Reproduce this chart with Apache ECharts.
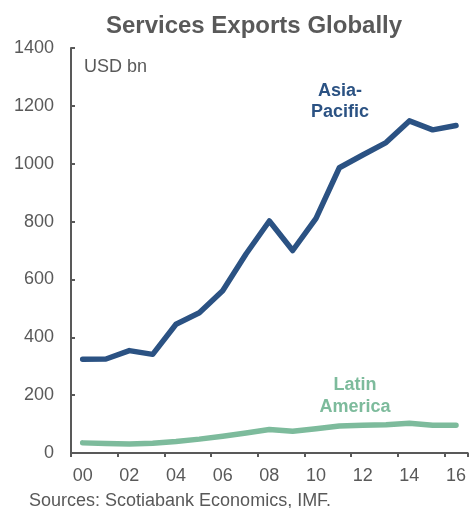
<!DOCTYPE html>
<html>
<head>
<meta charset="utf-8">
<script src="https://cdn.jsdelivr.net/npm/echarts@6/dist/echarts.min.js"></script>
<style>
  html, body { margin: 0; padding: 0; background: #fff; }
  #chart { width: 469px; height: 508px; }
</style>
</head>
<body>
<div id="chart"></div>
<script>
// Services exports, USD bn, 2000-2016
const years = ['00','01','02','03','04','05','06','07','08','09','10','11','12','13','14','15','16'];
const asiaPacific = [324, 325, 354, 341, 445, 485, 561, 688, 802, 700, 811, 986, 1030, 1073, 1148, 1117, 1132];
const latinAmerica = [35, 33, 31, 34, 40, 48, 58, 69, 81, 75, 84, 93, 96, 98, 103, 96, 96];
const yTicks = [0, 200, 400, 600, 800, 1000, 1200, 1400];

const FONT = '"Liberation Sans", Arial, sans-serif';
const GREY = '#595959';
const BLUE = '#2B5283';
const GREEN = '#7DBB9C';

const chart = echarts.init(document.getElementById('chart'), null, { renderer: 'canvas' });

chart.setOption({
  animation: false,
  backgroundColor: '#ffffff',
  grid: { left: 71, right: 0, top: 48, bottom: 55, containLabel: false },
  xAxis: {
    type: 'category',
    data: years,
    boundaryGap: true,
    axisLine: { lineStyle: { color: GREY, width: 2 } },
    axisTick: { show: true, interval: 1, length: 4, lineStyle: { color: GREY, width: 2 } },
    axisLabel: { interval: 1, margin: 14, color: GREY, fontSize: 18, fontFamily: FONT }
  },
  yAxis: {
    type: 'value',
    min: yTicks[0],
    max: yTicks[yTicks.length - 1],
    interval: 200,
    splitLine: { show: false },
    axisLine: { show: true, lineStyle: { color: GREY, width: 2 } },
    axisTick: { show: true, inside: true, length: 4, lineStyle: { color: GREY, width: 2 } },
    axisLabel: {
      margin: 17, color: GREY, fontSize: 18, fontFamily: FONT,
      formatter: (v) => String(v)
    }
  },
  series: [
    {
      name: 'Asia-Pacific',
      type: 'line',
      data: asiaPacific,
      symbol: 'none',
      lineStyle: { color: BLUE, width: 5.5, cap: 'round', join: 'round' },
      z: 3
    },
    {
      name: 'Latin America',
      type: 'line',
      data: latinAmerica,
      symbol: 'none',
      lineStyle: { color: GREEN, width: 5.5, cap: 'round', join: 'round' },
      z: 2
    }
  ],
  graphic: [
    {
      type: 'text', x: 254, y: 26,
      style: {
        text: 'Services Exports Globally',
        align: 'center', verticalAlign: 'middle',
        fill: GREY, font: 'bold 24px ' + FONT
      }
    },
    {
      type: 'text', x: 84, y: 67,
      style: {
        text: 'USD bn', align: 'left', verticalAlign: 'middle',
        fill: GREY, font: '18px ' + FONT
      }
    },
    {
      type: 'text', x: 340, y: 102,
      style: {
        text: 'Asia-\nPacific', align: 'center', verticalAlign: 'middle',
        fill: BLUE, font: 'bold 18px ' + FONT, lineHeight: 21
      }
    },
    {
      type: 'text', x: 355, y: 396,
      style: {
        text: 'Latin\nAmerica', align: 'center', verticalAlign: 'middle',
        fill: GREEN, font: 'bold 18px ' + FONT, lineHeight: 22
      }
    },
    {
      type: 'text', x: 29, y: 501,
      style: {
        text: 'Sources: Scotiabank Economics, IMF.', align: 'left', verticalAlign: 'middle',
        fill: GREY, font: '18px ' + FONT
      }
    }
  ]
});
</script>
</body>
</html>
